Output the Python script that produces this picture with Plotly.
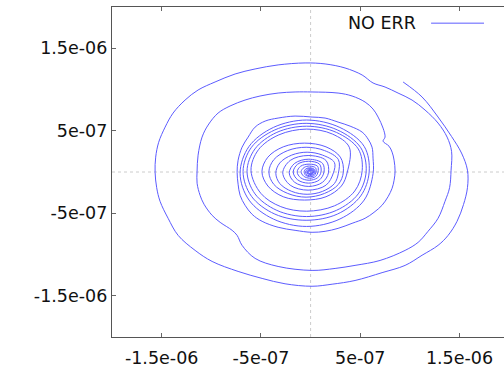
import plotly.graph_objects as go

# Phase-space trajectory, coordinates in units of 1e-7 (spirals inward, clockwise)
x_e7 = [
    # outer turn
    9.32, 11.23, 12.84, 14.2, 15.2, 15.8, 15.8, 15.4, 14.75, 13.85, 12.84, 11.23, 9.52,
    7.2, 4.48, 2.17, 0.15, -2.57, -4.88, -7.3, -9.92, -11.63, -13.34, -14.35, -15.16, -15.5,
    -15.66, -15.6, -15.3, -14.65, -13.85, -12.64, -11.33, -9.62, -7.6, -5.59, -3.27, -0.55,
    1.46, 3.47, 5.19, 6.29, 7.5, 8.81, 10.22, 11.53, 12.84, 13.75, 14.2,
    # second turn
    14.15, 14.0, 13.54, 12.84, 11.83, 10.83, 9.52, 7.0, 4.48, 2.47, 0.15, -3.27, -5.59,
    -6.9, -7.4, -7.9, -9.11, -9.92, -10.73, -11.13, -11.43, -11.43, -11.33, -10.93, -10.32,
    -9.32, -8.11, -6.6, -5.09, -3.27, -1.56, 0.15, 2.77, 4.18, 5.49, 6.29, 6.8, 7.3, 7.5,
    7.3, 7.9, 8.21, 8.41,
    # third turn
    8.51, 8.41, 8.21, 7.8, 7.2, 6.39, 5.49, 4.18, 2.77, 1.46, 0.15, -1.56, -3.27, -4.88,
    -5.89, -6.6, -7.1, -7.3, -7.4, -7.3, -6.9, -6.29, -5.59, -4.58, -3.27, -1.56, 0.15,
    1.46, 2.77, 3.98, 5.19, 5.79, 6.19, 6.29,
    # outer ring group
    6.3, 5.4, 2.95, -0.4, -3.75, -6.2, -7.1, -6.2, -3.75, -0.4, 2.95, 5.4,
    5.9, 5.05, 2.7, -0.45, -3.6, -5.95, -6.8, -5.95, -3.6, -0.45, 2.7, 5.05,
    5.6, 4.8, 2.6, -0.4, -3.4, -5.6, -6.4, -5.6, -3.4, -0.4, 2.6, 4.8,
    5.2, 4.45, 2.4, -0.4, -3.0, -5.0, -6.0, -5.25, -3.2, -0.4, 2.2, 3.9,
    # middle ring group
    3.7, 3.1, 1.55, -0.6, -2.75, -4.3, -4.9, -4.3, -2.75, -0.6, 1.55, 3.0,
    3.3, 2.8, 1.4, -0.45, -2.3, -3.7, -4.2, -3.7, -2.3, -0.45, 1.4, 2.8,
    2.8, 2.4, 1.2, -0.35, -1.9, -3.1, -3.5, -3.1, -1.9, -0.35, 1.2, 2.4,
    2.3, 1.55, -0.25, -2.05, -2.8, -2.05, -0.25, 1.55,
    1.8, 1.2, -0.18, -1.6, -2.15, -1.6, -0.18, 1.2,
    # inner rings and core
    1.35, 0.9, -0.2, -1.3, -1.75, -1.3, -0.2, 0.9,
    1.05, 0.7, -0.15, -1.0, -1.35, -1.0, -0.15, 0.7,
    0.75, 0.5, -0.1, -0.7, -0.95, -0.65, -0.1, 0.5,
    0.55, 0.35, -0.1, -0.5, -0.65, -0.45, -0.05, 0.35,
    0.45, 0.28, -0.1, -0.42, -0.5, -0.32, 0.0, 0.3,
    0.35, 0.2, -0.1, -0.35, -0.35, -0.15, 0.1, 0.3,
    0.3, 0.15, -0.1, -0.3, -0.28, -0.1, 0.1, 0.25,
    0.22, 0.1, -0.15, -0.22, -0.1, 0.12, 0.15, 0.0, -0.1, 0.0, 0.05,
]
y_e7 = [
    10.91, 9.09, 6.66, 4.3, 2.3, 0.22, -1.9, -3.95, -5.98, -7.68, -8.89, -10.09, -11.32,
    -12.2, -13.15, -13.6, -13.85, -13.55, -12.9, -12.05, -10.84, -9.5, -7.68, -5.61, -3.55, -1.9,
    -0.02, 1.8, 3.6, 5.44, 7.14, 8.72, 9.94, 10.91, 11.88, 12.49, 12.98, 13.22,
    13.1, 12.61, 11.76, 10.79, 10.3, 9.57, 8.72, 7.51, 5.93, 4.23, 2.5,
    0.22, -1.9, -3.55, -5.61, -7.19, -8.53, -9.5, -10.72, -11.32, -11.69, -11.93, -11.45, -10.47,
    -8.89, -7.68, -7.07, -6.1, -5.25, -3.91, -2.82, -1.36, 0.1, 2.04, 4.23, 5.69,
    7.14, 8.0, 8.72, 9.21, 9.57, 9.7, 9.7, 9.57, 9.21, 8.48, 7.63, 6.66, 5.32, 4.23,
    3.74, 3.13, 2.41, 1.43,
    0.1, -1.0, -1.97, -3.0, -4.03, -4.89, -5.61, -6.22, -6.83, -7.19, -7.31, -7.07, -6.7, -5.98,
    -5.13, -4.03, -2.82, -1.48, -0.02, 1.43, 3.01, 4.23, 5.44, 6.17, 6.54, 6.78, 6.66,
    6.54, 6.05, 5.56, 4.84, 3.99, 3.01, 1.68,
    -0.15, -3.4, -5.7, -6.6, -5.7, -3.4, -0.15, 3.1, 5.4, 6.3, 5.4, 3.1,
    0.0, -2.9, -5.1, -5.85, -5.1, -2.95, 0.05, 3.0, 5.1, 5.9, 5.1, 2.95,
    0.1, -2.65, -4.65, -5.4, -4.65, -2.65, 0.1, 2.8, 4.8, 5.55, 4.8, 2.8,
    0.2, -2.3, -4.1, -4.75, -4.2, -2.6, 0.2, 2.7, 4.5, 5.2, 4.6, 3.0,
    0.0, -1.7, -3.0, -3.4, -3.0, -1.7, 0.05, 1.8, 3.05, 3.5, 3.05, 1.8,
    0.0, -1.5, -2.6, -3.05, -2.6, -1.5, 0.0, 1.5, 2.6, 3.0, 2.6, 1.5,
    -0.15, -1.4, -2.35, -2.7, -2.35, -1.4, -0.15, 1.1, 2.05, 2.4, 2.05, 1.15,
    -0.1, -1.6, -2.2, -1.6, -0.1, 1.4, 2.0, 1.4,
    -0.1, -1.25, -1.75, -1.25, -0.1, 1.05, 1.55, 1.05,
    0.0, -0.95, -1.35, -0.95, 0.0, 0.95, 1.3, 0.95,
    0.0, -0.7, -1.0, -0.7, 0.0, 0.7, 0.95, 0.7,
    0.0, -0.55, -0.75, -0.5, 0.05, 0.55, 0.72, 0.5,
    0.0, -0.45, -0.55, -0.4, 0.05, 0.4, 0.5, 0.35,
    0.0, -0.32, -0.45, -0.3, 0.05, 0.33, 0.4, 0.28,
    0.0, -0.25, -0.3, -0.15, 0.1, 0.28, 0.28, 0.15,
    0.0, -0.22, -0.25, -0.1, 0.1, 0.22, 0.22, 0.1,
    0.0, -0.18, -0.18, 0.05, 0.18, 0.14, -0.05, -0.1, 0.05, 0.08, 0.0,
]

series_name = "NO ERR"
tick_vals = [-1.5e-6, -5e-7, 5e-7, 1.5e-6]
tick_text = ["-1.5e-06", "-5e-07", "5e-07", "1.5e-06"]

x = [v * 1e-7 for v in x_e7]
y = [v * 1e-7 for v in y_e7]

LINE_COLOR = "#5c5cff"
FONT = dict(family="DejaVu Sans", size=17.5, color="#111111")

fig = go.Figure()
fig.add_trace(go.Scatter(
    x=x, y=y, mode="lines", name=series_name, showlegend=False,
    line=dict(color=LINE_COLOR, width=1, shape="spline", smoothing=1.0),
))

axis_common = dict(
    tickvals=tick_vals, ticktext=tick_text,
    ticks="inside", ticklen=4, tickwidth=1, tickcolor="#666666",
    showline=True, linecolor="#555555", linewidth=1.3,
    showgrid=False, zeroline=False, tickfont=FONT,
)
fig.update_xaxes(range=[-2e-6, 1.948e-6], mirror="ticks", ticklabelstandoff=5, **axis_common)
fig.update_yaxes(range=[-2e-6, 2e-6], mirror=False, **axis_common)

# dashed zero axes
zero_style = dict(color="#cccccc", width=1, dash="3px,3px")
fig.add_shape(type="line", xref="x", yref="paper", x0=0, x1=0, y0=0, y1=1,
              line=zero_style, layer="below")
fig.add_shape(type="line", xref="paper", yref="y", x0=0, x1=1, y0=0, y1=0,
              line=zero_style, layer="below")

# key: label followed by a line sample
fig.add_annotation(text=series_name, xref="paper", yref="paper", x=0.781, y=0.951,
                   xanchor="right", yanchor="middle", showarrow=False, font=FONT)
fig.add_shape(type="line", xref="paper", yref="paper", x0=0.814, x1=0.949,
              y0=0.951, y1=0.951, line=dict(color=LINE_COLOR, width=1))

fig.update_layout(
    width=504, height=371,
    margin=dict(l=112, r=0, t=7, b=34),
    paper_bgcolor="white", plot_bgcolor="white",
)

fig.write_html("out.html")
